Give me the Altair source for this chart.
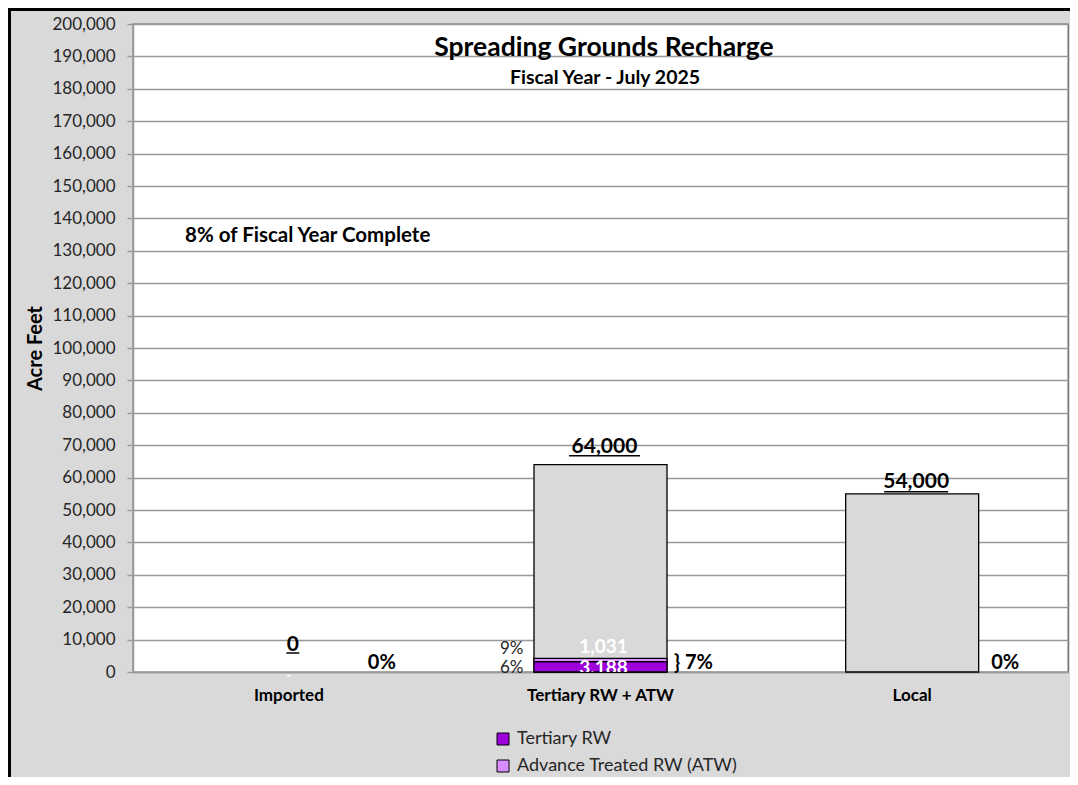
import altair as alt
import numpy as np
import pandas as pd

# ---------------- data ----------------
categories = ["Imported", "Tertiary RW + ATW", "Local"]
target_values = [0, 64000, 55000]
target_labels = ["0", "64,000", "54,000"]
share_labels = ["0%", "} 7%", "0%"]

series_names = ["Tertiary RW", "Advance Treated RW (ATW)"]
series_values = [3188, 1031]
series_value_labels = ["3,188", "1,031"]
series_pct_labels = ["6%", "9%"]

imported_actual_label = "-"

y_ticks = list(range(0, 200001, 10000))

title_text = "Spreading Grounds Recharge"
subtitle_text = "Fiscal Year - July 2025"
note_text = "8% of Fiscal Year Complete"

# ---------------- styles ----------------
FONT = "Lato"
series_colors = ["#9E00DC", "#D98CFF"]
W, H = 935, 648
PAD = {"left": 125, "top": 16, "right": 2, "bottom": 105}

df_target = pd.DataFrame({
    "category": categories,
    "target": target_values,
    "label": target_labels,
    "share": share_labels,
})
cum = np.cumsum(series_values)
df_series = pd.DataFrame({
    "category": categories[1],
    "series": series_names,
    "value": series_values,
    "order": list(range(len(series_names))),
    "label": series_value_labels,
    "pct": series_pct_labels,
    "top": cum,
})
df_text = pd.DataFrame({"title": [title_text], "subtitle": [subtitle_text],
                        "note": [note_text], "dash": [imported_actual_label]})

x_scale = alt.Scale(domain=categories, paddingInner=0, paddingOuter=0)
x_axis = alt.Axis(title=None, labelFont=FONT, labelFontSize=17, labelFontWeight="bold",
                  labelColor="black", tickSize=0, labelPadding=15, labelAngle=0,
                  domainColor="#999999", domainWidth=1.5, grid=False)
y_scale = alt.Scale(domain=[0, 200000], nice=False, zero=True)
y_axis = alt.Axis(title="Acre Feet", values=y_ticks, format=",d", labelFont=FONT,
                  labelFontSize=17, labelColor="#262626", tickSize=6, tickColor="#999999",
                  tickWidth=1.3, labelPadding=12, domainColor="#999999", domainWidth=1.5,
                  gridColor="#999999", gridWidth=1.3, titleFont=FONT, titleFontSize=20,
                  titleFontWeight="bold", titleColor="black", titlePadding=6)


def X():
    return alt.X("category:N", sort=categories, scale=x_scale, axis=x_axis)


def Y(field):
    return alt.Y(f"{field}:Q", scale=y_scale, axis=y_axis, stack=None)


layers = []

# target (grey) bars
layers.append(
    alt.Chart(df_target).transform_filter(alt.datum.target > 0)
    .mark_bar(size=133, fill="#d9d9d9", stroke="black", strokeWidth=1.3)
    .encode(x=X(), y=Y("target"))
)

# stacked recharge bars
layers.append(
    alt.Chart(df_series)
    .mark_bar(size=133, stroke="black", strokeWidth=1.3)
    .encode(
        x=X(),
        y=alt.Y("value:Q", scale=y_scale, axis=y_axis, stack="zero"),
        color=alt.Color("series:N", scale=alt.Scale(domain=series_names, range=series_colors),
                        legend=alt.Legend(title=None, orient="none", legendX=361, legendY=706,
                                          direction="vertical", symbolType="square",
                                          symbolSize=144, symbolStrokeColor="black",
                                          symbolStrokeWidth=1, symbolOpacity=1,
                                          labelFont=FONT, labelFontSize=18, labelLimit=0,
                                          labelColor="#262626", rowPadding=9,
                                          labelOffset=5, padding=0)),
        order=alt.Order("order:Q"),
    )
)

# target labels with underline (per category offsets)
target_style = {
    "Imported": (-21, -19, 13),
    "Tertiary RW + ATW": (-12, -9, 71),
    "Local": (-6, -2, 64),
}
for cat, (dy, ul_dy, ul_len) in target_style.items():
    base = alt.Chart(df_target).transform_filter(alt.datum.category == cat)
    layers.append(
        base.mark_text(font=FONT, fontSize=21, fontWeight="bold", color="black",
                       baseline="alphabetic", align="center", dx=4, dy=dy)
        .encode(x=X(), y=Y("target"), text="label:N")
    )
    layers.append(
        base.mark_tick(size=ul_len, thickness=1.5, color="black", opacity=1,
                       xOffset=4, yOffset=ul_dy)
        .encode(x=X(), y=Y("target"))
    )

# share-of-target labels to the right of bars
layers.append(
    alt.Chart(df_target).transform_calculate(base="0")
    .mark_text(font=FONT, fontSize=20, fontWeight="bold", color="black",
               baseline="alphabetic", align="center", dx=93, dy=-3)
    .encode(x=X(), y=Y("base"), text="share:N")
)

# zero marker for Imported
layers.append(
    alt.Chart(df_text).transform_calculate(base="0", category="'Imported'")
    .mark_text(font=FONT, fontSize=14, fontWeight="bold", color="white",
               baseline="middle", align="center", dy=4)
    .encode(x=X(), y=Y("base"), text="dash:N")
)

# series value labels and percent labels
series_style = {series_names[0]: (12, 11), series_names[1]: (-5, -4)}
for name, (dy_val, dy_pct) in series_style.items():
    base = alt.Chart(df_series).transform_filter(alt.datum.series == name)
    layers.append(
        base.mark_text(font=FONT, fontSize=19, fontWeight="bold", color="white",
                       baseline="alphabetic", align="center", dx=3, dy=dy_val, clip=True)
        .encode(x=X(), y=Y("top"), text="label:N")
    )
    layers.append(
        base.mark_text(font=FONT, fontSize=17, color="#262626",
                       baseline="alphabetic", align="right", dx=-77, dy=dy_pct)
        .encode(x=X(), y=Y("top"), text="pct:N")
    )

# titles and note
txt = alt.Chart(df_text)
layers.append(txt.mark_text(font=FONT, fontSize=26.5, fontWeight="bold", color="black",
                            align="center", baseline="alphabetic")
              .encode(x=alt.value(471), y=alt.value(32), text="title:N"))
layers.append(txt.mark_text(font=FONT, fontSize=19.5, fontWeight="bold", color="black",
                            align="center", baseline="alphabetic")
              .encode(x=alt.value(472), y=alt.value(60), text="subtitle:N"))
layers.append(txt.mark_text(font=FONT, fontSize=20.5, fontWeight="bold", color="black",
                            align="left", baseline="alphabetic")
              .encode(x=alt.value(52), y=alt.value(218), text="note:N"))

# outer frame lines (left and top)
layers.append(txt.mark_rule(color="black", strokeWidth=3)
              .encode(x=alt.value(-123.5), y=alt.value(-16), y2=alt.value(H + PAD["bottom"])))
layers.append(txt.mark_rule(color="black", strokeWidth=3)
              .encode(y=alt.value(-14.5), x=alt.value(-125), x2=alt.value(W + PAD["right"])))

chart = (
    alt.layer(*layers)
    .resolve_scale(x="shared", y="shared")
    .properties(width=W, height=H, padding=PAD,
                autosize=alt.AutoSizeParams(type="none"), background="#d9d9d9")
    .configure_view(fill="white", stroke="#666666", strokeWidth=1.3)
)

chart.save("out.html", embed_options={"renderer": "svg", "actions": False})
